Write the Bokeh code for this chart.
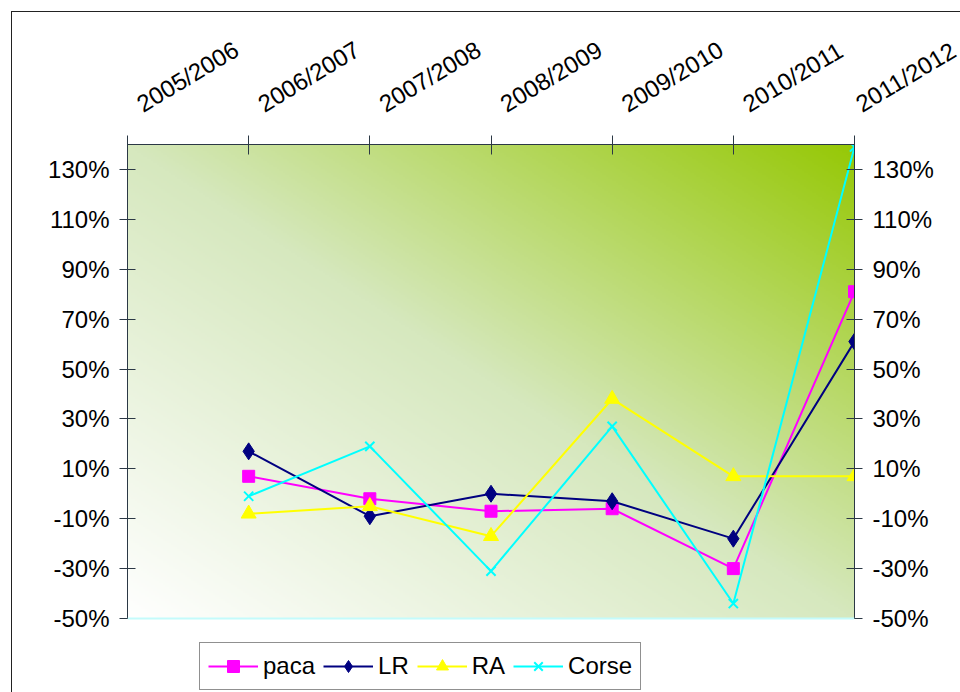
import numpy as np
from bokeh.plotting import figure
from bokeh.models import (Range1d, LinearAxis, FixedTicker, Legend, LegendItem, Span)
from bokeh.embed import file_html
from bokeh.resources import INLINE

# ---------------- data ----------------
categories = ["2005/2006", "2006/2007", "2007/2008", "2008/2009",
              "2009/2010", "2010/2011", "2011/2012"]
paca = [np.nan, 7, -2, -7, -6, -30, 81]
lr = [np.nan, 17, -9, 0, -3, -18, 61]
ra = [np.nan, -8, -5, -17, 38, 7, 7]
corse = [np.nan, -1, 19, -31, 27, -44, 139]
y_ticks = [-50, -30, -10, 10, 30, 50, 70, 90, 110, 130]
y_min, y_max = -50, 140

FONT = "'Liberation Sans', Arial, sans-serif"
AXIS_COL = "#2b3845"

x_idx = list(range(len(categories)))

# plot area 474 px tall for the value range; the frame continues 74 px lower
# (white) so that the legend can sit under the plot area
AREA_H = 474
EXTRA_H = 74
y_low = y_min - (y_max - y_min) * EXTRA_H / AREA_H

p = figure(frame_width=727, frame_height=AREA_H + EXTRA_H,
           min_border_left=127, min_border_right=106,
           min_border_top=144, min_border_bottom=0,
           x_range=Range1d(0, len(categories) - 1), y_range=Range1d(y_low, y_max),
           x_axis_location=None, y_axis_location=None,
           output_backend="svg", toolbar_location=None)
p.grid.visible = False
p.outline_line_color = None
p.background_fill_color = "white"
p.border_fill_color = None
p.styles = {"box-shadow": "inset 11px 11px 0 0 #ffffff, inset 12px 12px 0 0 #222222",
            "background-color": "#ffffff"}

# ---------------- gradient background ----------------
W, H = 364, 237
xs = (np.arange(W) + 0.5) / W
ys = (np.arange(H) + 0.5) / H
XX, YY = np.meshgrid(xs, ys)
t = (XX + YY) / 2.0
stops_t = [0.0, 0.5, 1.0]
R = np.interp(t, stops_t, [255, 214, 150]).astype(np.uint32)
G = np.interp(t, stops_t, [255, 232, 200]).astype(np.uint32)
B = np.interp(t, stops_t, [255, 190, 5]).astype(np.uint32)
img = ((255 << 24) | (B << 16) | (G << 8) | R).astype(np.uint32)
p.image_rgba(image=[img], x=0, y=y_min, dw=len(categories) - 1, dh=y_max - y_min,
             level="image")

p.add_layout(Span(location=y_min, dimension="width", line_color="#c4fbfb", line_width=2))

# ---------------- series ----------------
series = [
    ("paca", paca, "#ff00ff", "square", 12),
    ("LR", lr, "#000080", "diamond", 17),
    ("RA", ra, "#ffff00", "triangle", 15),
    ("Corse", corse, "#00ffff", "x", 13),
]
items = []
for name, vals, col, mk, sz in series:
    ln = p.line(x_idx, vals, line_color=col, line_width=2)
    if mk == "x":
        sr = p.scatter(x_idx, vals, marker=mk, size=sz, line_color=col, line_width=2)
    else:
        sr = p.scatter(x_idx, vals, marker=mk, size=sz, fill_color=col, line_color=col,
                       line_width=1)
    items.append(LegendItem(label=name, renderers=[ln, sr]))

# ---------------- axes ----------------
def style_axis(ax):
    ax.axis_line_color = AXIS_COL
    ax.axis_line_width = 1
    ax.major_tick_line_color = AXIS_COL
    ax.minor_tick_line_color = None
    ax.major_label_text_font = FONT
    ax.major_label_text_font_size = "24px"
    ax.major_label_text_color = "black"

y_over = {v: f"{v}%" for v in y_ticks}
for side in ("left", "right"):
    ax = LinearAxis(ticker=FixedTicker(ticks=y_ticks), major_label_overrides=y_over,
                    bounds=(y_min, y_max))
    style_axis(ax)
    ax.major_tick_in = 8
    ax.major_tick_out = 8
    ax.major_label_standoff = 10
    p.add_layout(ax, side)

xax = LinearAxis(ticker=FixedTicker(ticks=x_idx),
                 major_label_overrides={i: "\u00a0\u00a0" + c for i, c in enumerate(categories)})
style_axis(xax)
xax.major_tick_in = 10
xax.major_tick_out = 9
xax.major_label_standoff = 23
xax.major_label_orientation = 0.54
p.add_layout(xax, "above")

# ---------------- legend ----------------
legend = Legend(items=items, orientation="horizontal", location=(72, 2),
                label_text_font=FONT, label_text_font_size="24px",
                label_text_color="black",
                glyph_width=50, glyph_height=30, label_standoff=5, spacing=8,
                padding=8, margin=0, border_line_color="#222222", border_line_width=1,
                background_fill_color="white", background_fill_alpha=1.0)
p.add_layout(legend)

open("out.html", "w").write(file_html(p, INLINE))
